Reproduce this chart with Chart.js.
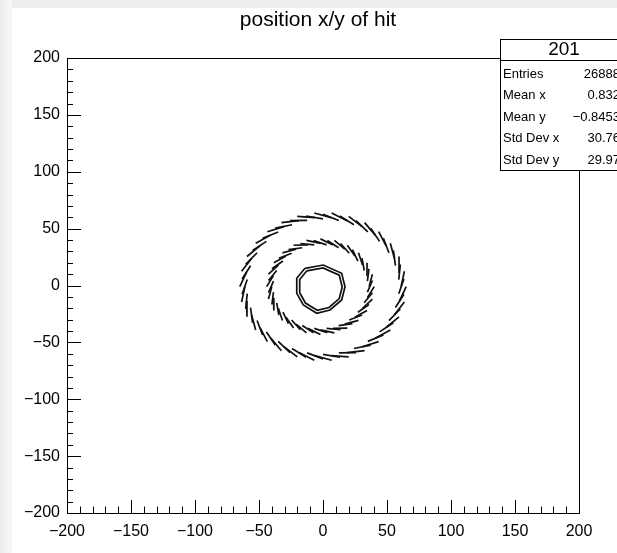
<!DOCTYPE html>
<html>
<head>
<meta charset="utf-8">
<script src="https://cdn.jsdelivr.net/npm/chart.js@4.4.1/dist/chart.umd.min.js"></script>
<style>
  html, body { margin: 0; padding: 0; background: #fff; }
  canvas { display: block; }
</style>
</head>
<body>
<canvas id="hitChart" width="617" height="553"></canvas>
<script>
// ---- data ----
const chartTitle = 'position x/y of hit';
const axisMin = -200, axisMax = 200, majorStep = 50, minorStep = 10;

// outer ring: short tilted dashes, start -> end (two staggered layers)
const outerX1 = [61, 59.7, 55.8, 49.3, 40.8, 30.5, 18.8, 6.4, -6.4, -18.8, -30.5, -40.8, -49.3, -55.8, -59.7, -61, -59.7, -55.8, -49.3, -40.8, -30.5, -18.8, -6.4, 6.4, 18.8, 30.5, 40.8, 49.3, 55.8, 59.7];
const outerY1 = [-1, 11.7, 23.8, 34.9, 44.3, 51.8, 57.0, 59.7, 59.7, 57.0, 51.8, 44.3, 34.9, 23.8, 11.7, -1, -13.7, -25.8, -36.9, -46.3, -53.8, -59.0, -61.7, -61.7, -59.0, -53.8, -46.3, -36.9, -25.8, -13.7];
const outerX2 = [63.6, 59.4, 52.6, 43.5, 32.5, 20.1, 6.8, -6.8, -20.1, -32.5, -43.5, -52.6, -59.4, -63.6, -65, -63.6, -59.4, -52.6, -43.5, -32.5, -20.1, -6.8, 6.8, 20.1, 32.5, 43.5, 52.6, 59.4, 63.6, 65];
const outerY2 = [12.5, 25.5, 37.2, 47.3, 55.3, 60.8, 63.7, 63.7, 60.8, 55.3, 47.3, 37.2, 25.5, 12.5, -1, -14.5, -27.5, -39.2, -49.3, -57.3, -62.8, -65.7, -65.7, -62.8, -57.3, -49.3, -39.2, -27.5, -14.5, -1];

const outerBX1 = [59.2, 56.6, 51.5, 44.2, 35.0, 24.2, 12.4, 0, -12.4, -24.2, -35.0, -44.2, -51.5, -56.6, -59.2, -59.2, -56.6, -51.5, -44.2, -35.0, -24.2, -12.4, 0, 12.4, 24.2, 35.0, 44.2, 51.5, 56.6, 59.2];
const outerBY1 = [5.2, 17.4, 28.8, 38.8, 47.1, 53.4, 57.2, 58.5, 57.2, 53.4, 47.1, 38.8, 28.8, 17.4, 5.2, -7.2, -19.4, -30.8, -40.8, -49.1, -55.4, -59.2, -60.5, -59.2, -55.4, -49.1, -40.8, -30.8, -19.4, -7.2];
const outerBX2 = [60.4, 55.0, 47.2, 37.3, 25.8, 13.2, 0, -13.2, -25.8, -37.3, -47.2, -55.0, -60.4, -63.2, -63.2, -60.4, -55.0, -47.2, -37.3, -25.8, -13.2, 0, 13.2, 25.8, 37.3, 47.2, 55.0, 60.4, 63.2, 63.2];
const outerBY2 = [18.6, 30.8, 41.5, 50.4, 57.0, 61.1, 62.5, 61.1, 57.0, 50.4, 41.5, 30.8, 18.6, 5.7, -7.7, -20.6, -32.8, -43.5, -52.4, -59.0, -63.1, -64.5, -63.1, -59.0, -52.4, -43.5, -32.8, -20.6, -7.7, 5.7];

// middle ring (two staggered layers)
const midX1 = [36, 34.7, 30.9, 24.9, 17, 7.8, -2, -11.8, -21, -28.9, -34.9, -38.7, -40, -38.7, -34.9, -28.9, -21, -11.8, -2, 7.8, 17, 24.9, 30.9, 34.7];
const midY1 = [-1, 8.8, 18, 25.9, 31.9, 35.7, 37, 35.7, 31.9, 25.9, 18, 8.8, -1, -10.8, -20, -27.9, -33.9, -37.7, -39, -37.7, -33.9, -27.9, -20, -10.8];
const midX2 = [38.6, 34.4, 27.7, 19, 8.9, -2, -12.9, -23, -31.7, -38.4, -42.6, -44, -42.6, -38.4, -31.7, -23, -12.9, -2, 8.9, 19, 27.7, 34.4, 38.6, 40];
const midY2 = [9.9, 20, 28.7, 35.4, 39.6, 41, 39.6, 35.4, 28.7, 20, 9.9, -1, -11.9, -22, -30.7, -37.4, -41.6, -43, -41.6, -37.4, -30.7, -22, -11.9, -1];

const midBX1 = [34.7, 32.2, 27.3, 20.5, 12.2, 2.8, -6.8, -16.2, -24.5, -31.3, -36.2, -38.7, -38.7, -36.2, -31.3, -24.5, -16.2, -6.8, 2.8, 12.2, 20.5, 27.3, 32.2, 34.7];
const midBY1 = [3.8, 13.2, 21.5, 28.3, 33.2, 35.7, 35.7, 33.2, 28.3, 21.5, 13.2, 3.8, -5.8, -15.2, -23.5, -30.3, -35.2, -37.7, -37.7, -35.2, -30.3, -23.5, -15.2, -5.8];
const midBX2 = [35.9, 30.5, 23.0, 13.7, 3.4, -7.4, -17.7, -27.0, -34.5, -39.9, -42.6, -42.6, -39.9, -34.5, -27.0, -17.7, -7.4, 3.4, 13.7, 23.0, 30.5, 35.9, 38.6, 38.6];
const midBY2 = [14.7, 24.0, 31.5, 36.9, 39.6, 39.6, 36.9, 31.5, 24.0, 14.7, 4.4, -6.4, -16.7, -26.0, -33.5, -38.9, -41.6, -41.6, -38.9, -33.5, -26.0, -16.7, -6.4, 4.4];

// inner ring: two close outlines
const innerX = [-14.1, 0.2, 14.6, 17.2, 14.6, 5.5, -4.9, -15.4, -20.5, -20.5, -14.1];
const innerY = [15.1, 18.0, 10.7, -1.1, -12.7, -21.5, -24.4, -17.1, -6.9, 6.3, 15.1];
const innerX2 = [-12.6, 0.0, 12.7, 15.0, 12.7, 4.7, -4.5, -13.7, -18.2, -18.2, -12.6];
const innerY2 = [12.9, 15.5, 9.1, -1.3, -11.5, -19.3, -21.8, -15.4, -6.4, 5.2, 12.9];

// stats box
const statsName = '201';
const statsLabels = ['Entries', 'Mean x', 'Mean y', 'Std Dev x', 'Std Dev y'];
const statsValues = ['26888', '0.832', '\u22120.8453', '30.76', '29.97'];

// ---- helpers ----
const FONT = "'Liberation Sans', Arial, Helvetica, sans-serif";
const minus = v => String(v).replace('-', '\u2212');

function dashes(x1, y1, x2, y2) {
  const out = [];
  x1.forEach((_, i) => {
    out.push({ x: x1[i], y: y1[i] }, { x: x2[i], y: y2[i] }, { x: null, y: null });
  });
  return out;
}
function outline(xs, ys) {
  return xs.map((x, i) => ({ x, y: ys[i] }));
}
function ringSet(data) {
  return { data, showLine: true, spanGaps: false, borderColor: '#111', borderWidth: 1.7, pointRadius: 0, tension: 0 };
}

// ---- plugin: frame, inward ticks, title, stats ----
const rootStyle = {
  id: 'rootStyle',
  beforeDraw(chart) {
    const { ctx, width, height } = chart;
    ctx.save();
    ctx.fillStyle = '#ededed';
    ctx.fillRect(0, 0, width, height);
    const gl = ctx.createLinearGradient(0, 0, 12, 0);
    gl.addColorStop(0, '#ececec'); gl.addColorStop(1, '#f8f8f8');
    ctx.fillStyle = gl;
    ctx.fillRect(0, 0, 12, height);
    ctx.fillStyle = '#fff';
    ctx.fillRect(12, 8, width - 12, height - 8);
    ctx.restore();
  },
  afterDatasetsDraw(chart) {
    const { ctx, chartArea: a, scales: { x, y } } = chart;
    ctx.save();
    ctx.strokeStyle = '#000';
    ctx.lineWidth = 1;
    ctx.strokeRect(a.left + 0.5, a.top + 0.5, a.right - a.left, a.bottom - a.top);
    ctx.beginPath();
    for (let v = axisMin; v <= axisMax; v += minorStep) {
      const major = v % majorStep === 0;
      const px = Math.round(x.getPixelForValue(v)) + 0.5;
      ctx.moveTo(px, a.bottom);
      ctx.lineTo(px, a.bottom - (major ? 13 : 6.5));
      const py = Math.round(y.getPixelForValue(v)) + 0.5;
      ctx.moveTo(a.left, py);
      ctx.lineTo(a.left + (major ? 14 : 6), py);
    }
    ctx.stroke();
    ctx.restore();
  },
  afterDraw(chart) {
    const { ctx } = chart;
    ctx.save();
    ctx.fillStyle = '#000';
    ctx.font = `21px ${FONT}`;
    ctx.textAlign = 'center';
    ctx.textBaseline = 'middle';
    ctx.fillText(chartTitle, 318, 20);

    // stats box
    const bx = 500.5, by = 39.5, bw = 130, bh = 131;
    ctx.fillStyle = '#fff';
    ctx.fillRect(bx, by, bw, bh);
    ctx.strokeStyle = '#000';
    ctx.lineWidth = 1;
    ctx.strokeRect(bx, by, bw, bh);
    ctx.beginPath();
    ctx.moveTo(bx, 60.5); ctx.lineTo(bx + bw, 60.5);
    ctx.stroke();
    ctx.fillStyle = '#000';
    ctx.font = `19px ${FONT}`;
    ctx.textAlign = 'center';
    ctx.fillText(statsName, 564, 50);
    ctx.font = `13px ${FONT}`;
    statsLabels.forEach((lab, i) => {
      const ty = 74 + i * 21.5;
      ctx.textAlign = 'left';
      ctx.fillText(lab, 503, ty);
      ctx.textAlign = 'right';
      ctx.fillText(statsValues[i], 620, ty);
    });
    ctx.restore();
  }
};

new Chart(document.getElementById('hitChart'), {
  type: 'scatter',
  data: {
    datasets: [
      ringSet(dashes(outerX1, outerY1, outerX2, outerY2)),
      ringSet(dashes(outerBX1, outerBY1, outerBX2, outerBY2)),
      ringSet(dashes(midX1, midY1, midX2, midY2)),
      ringSet(dashes(midBX1, midBY1, midBX2, midBY2)),
      ringSet(outline(innerX, innerY)),
      ringSet(outline(innerX2, innerY2))
    ]
  },
  options: {
    responsive: false,
    animation: false,
    layout: { padding: { left: 0, top: 58, right: 38, bottom: 0 } },
    plugins: { legend: { display: false }, tooltip: { enabled: false }, title: { display: false } },
    scales: {
      x: {
        type: 'linear', min: axisMin, max: axisMax,
        afterFit: s => { s.height = 40; },
        grid: { display: false, drawTicks: false },
        border: { display: false },
        ticks: { stepSize: majorStep, padding: 9, color: '#000', font: { family: FONT, size: 16 }, maxRotation: 0, callback: minus }
      },
      y: {
        type: 'linear', min: axisMin, max: axisMax,
        afterFit: s => { s.width = 67; },
        grid: { display: false, drawTicks: false },
        border: { display: false },
        ticks: { stepSize: majorStep, padding: 7, color: '#000', font: { family: FONT, size: 16 }, callback: minus }
      }
    }
  },
  plugins: [rootStyle]
});
</script>
</body>
</html>
